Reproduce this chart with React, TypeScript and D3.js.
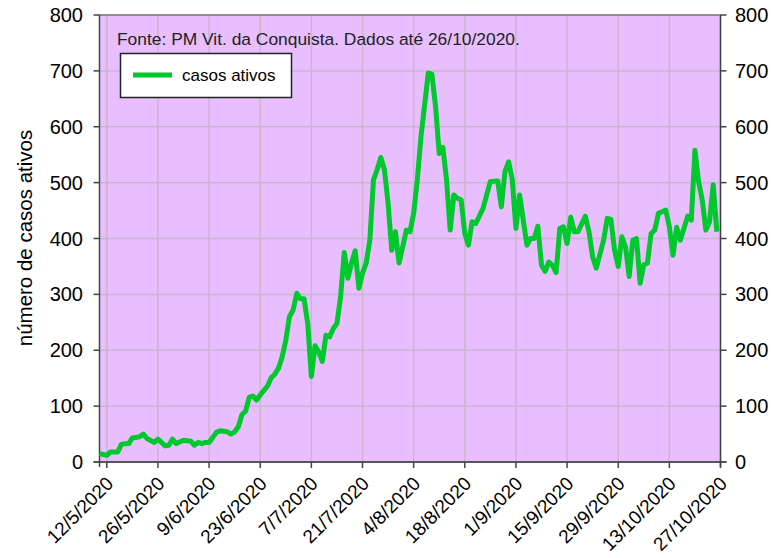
import React, { useEffect, useRef } from "react";
import * as d3 from "d3";

// dados (casos ativos, Vitoria da Conquista)
const datas = [
  "10/5", "12/5", "13/5", "15/5", "16/5", "18/5", "19/5", "21/5", "22/5", "23/5",
  "25/5", "26/5", "28/5", "29/5", "30/5", "31/5", "2/6", "4/6", "5/6", "6/6",
  "7/6", "8/6", "9/6", "11/6", "12/6", "14/6", "15/6", "16/6", "17/6", "18/6",
  "19/6", "20/6", "21/6", "22/6", "23/6", "25/6", "26/6", "27/6", "28/6", "29/6",
  "30/6", "1/7", "2/7", "3/7", "4/7", "5/7", "6/7", "7/7", "8/7", "9/7",
  "10/7", "11/7", "12/7", "13/7", "14/7", "15/7", "16/7", "17/7", "18/7", "19/7",
  "20/7", "21/7", "22/7", "23/7", "24/7", "25/7", "26/7", "27/7", "28/7", "29/7",
  "30/7", "31/7", "1/8", "2/8", "3/8", "4/8", "5/8", "6/8", "8/8", "9/8",
  "10/8", "11/8", "12/8", "13/8", "14/8", "15/8", "16/8", "17/8", "18/8", "19/8",
  "20/8", "21/8", "23/8", "25/8", "27/8", "28/8", "29/8", "30/8", "31/8", "1/9",
  "2/9", "4/9", "5/9", "6/9", "7/9", "8/9", "9/9", "10/9", "11/9", "12/9",
  "13/9", "14/9", "15/9", "16/9", "17/9", "18/9", "20/9", "21/9", "22/9", "23/9",
  "25/9", "26/9", "27/9", "28/9", "29/9", "30/9", "1/10", "2/10", "3/10", "4/10",
  "5/10", "6/10", "7/10", "8/10", "9/10", "10/10", "11/10", "12/10", "13/10", "14/10",
  "15/10", "16/10", "17/10", "18/10", "19/10", "20/10", "21/10", "22/10", "23/10", "24/10",
  "25/10", "26/10",
];
const casosAtivos = [
  15, 12, 18, 18, 32, 33, 43, 45, 50, 42,
  35, 41, 29, 30, 41, 33, 39, 37, 30, 35,
  33, 35, 35, 53, 56, 54, 50, 54, 63, 85,
  91, 116, 118, 111, 120, 136, 151, 157, 168, 188,
  218, 260, 272, 302, 292, 292, 248, 153, 208, 197,
  180, 227, 224, 239, 248, 296, 375, 329, 356, 378,
  311, 338, 356, 397, 505, 523, 545, 523, 463, 379,
  412, 356, 385, 415, 412, 445, 505, 582, 696, 694,
  636, 552, 563, 505, 415, 478, 472, 469, 409, 388,
  430, 427, 454, 502, 503, 457, 520, 537, 505, 418,
  478, 388, 400, 400, 422, 352, 341, 358, 352, 339,
  418, 421, 391, 438, 412, 412, 440, 412, 367, 347,
  397, 436, 434, 379, 350, 403, 385, 332, 397, 400,
  320, 353, 356, 409, 415, 445, 448, 451, 421, 370,
  420, 397, 418, 440, 433, 558, 502, 469, 415, 430,
  496, 412,
];
const ticksX = [
  "12/5/2020", "26/5/2020", "9/6/2020", "23/6/2020", "7/7/2020", "21/7/2020", "4/8/2020",
  "18/8/2020", "1/9/2020", "15/9/2020", "29/9/2020", "13/10/2020", "27/10/2020",
];
const ticksY = [0, 100, 200, 300, 400, 500, 600, 700, 800];
const inicio = "10/5/2020";
const fim = "27/10/2020";
const fonte = "Fonte: PM Vit. da Conquista. Dados até 26/10/2020.";
const legenda = "casos ativos";
const tituloY = "número de casos ativos";

const W = 774;
const H = 558;
const FONT = "'Liberation Sans', Arial, sans-serif";

const App = () => {
  const ref = useRef<SVGSVGElement>(null);

  useEffect(() => {
    const parse = d3.timeParse("%d/%m/%Y");
    const pts = datas.map((d, i) => ({ date: parse(d + "/2020")!, v: casosAtivos[i] }));

    const left = 99.5, right = 720.5, top = 15, bottom = 462;
    const x = d3.scaleTime().domain([parse(inicio)!, parse(fim)!]).range([left, right]);
    const y = d3.scaleLinear().domain([0, 800]).range([bottom, top]);

    const svg = d3.select(ref.current);
    svg.selectAll("*").remove();

    svg.append("rect")
      .attr("x", left).attr("y", top)
      .attr("width", right - left).attr("height", bottom - top)
      .attr("fill", "#E8BEFF");

    const grid = svg.append("g").attr("stroke", "#CBB6CE").attr("stroke-width", 1.5);
    ticksY.forEach(t => {
      grid.append("line").attr("x1", left).attr("x2", right).attr("y1", y(t)).attr("y2", y(t));
    });
    ticksX.forEach(t => {
      const xx = x(parse(t)!);
      grid.append("line").attr("x1", xx).attr("x2", xx).attr("y1", top).attr("y2", bottom);
    });

    // bordas e eixos
    svg.append("rect")
      .attr("x", left).attr("y", top)
      .attr("width", right - left).attr("height", bottom - top)
      .attr("fill", "none").attr("stroke", "#555").attr("stroke-width", 1);
    const axes = svg.append("g").attr("stroke", "#444").attr("stroke-width", 1.5);
    axes.append("line").attr("x1", left).attr("x2", left).attr("y1", top).attr("y2", bottom + 5);
    axes.append("line").attr("x1", right).attr("x2", right).attr("y1", top).attr("y2", bottom + 5);
    axes.append("line").attr("x1", left - 6).attr("x2", right + 6).attr("y1", bottom).attr("y2", bottom);
    ticksY.forEach(t => {
      axes.append("line").attr("x1", left - 6).attr("x2", left).attr("y1", y(t)).attr("y2", y(t));
      axes.append("line").attr("x1", right).attr("x2", right + 6).attr("y1", y(t)).attr("y2", y(t));
    });
    ticksX.forEach(t => {
      const xx = x(parse(t)!);
      axes.append("line").attr("x1", xx).attr("x2", xx).attr("y1", bottom).attr("y2", bottom + 6);
    });

    const lab = svg.append("g").attr("font-family", FONT).attr("fill", "#000");
    ticksY.forEach(t => {
      lab.append("text").attr("x", 83).attr("y", y(t)).attr("dy", "0.35em")
        .attr("text-anchor", "end").attr("font-size", 20).text(t);
      lab.append("text").attr("x", 735).attr("y", y(t)).attr("dy", "0.35em")
        .attr("font-size", 20).text(t);
    });
    ticksX.forEach(t => {
      const xx = x(parse(t)!);
      lab.append("text")
        .attr("transform", `translate(${xx + 3},${bottom + 18}) rotate(-45)`)
        .attr("text-anchor", "end").attr("dy", "0.35em")
        .attr("font-size", 19).text(t);
    });
    lab.append("text")
      .attr("transform", `translate(32,238) rotate(-90)`)
      .attr("text-anchor", "middle").attr("font-size", 20.5).text(tituloY);

    const line = d3.line<{ date: Date; v: number }>()
      .x(d => x(d.date))
      .y(d => y(d.v));
    svg.append("path").datum(pts)
      .attr("d", line)
      .attr("fill", "none")
      .attr("stroke", "#00C82D")
      .attr("stroke-width", 5)
      .attr("stroke-linejoin", "round");

    svg.append("text")
      .attr("x", 117).attr("y", 45)
      .attr("font-family", FONT).attr("font-size", 17.4).attr("fill", "#222")
      .text(fonte);

    const leg = svg.append("g");
    leg.append("rect")
      .attr("x", 120.5).attr("y", 53.5).attr("width", 171).attr("height", 44)
      .attr("fill", "#fff").attr("stroke", "#222").attr("stroke-width", 1.5);
    leg.append("line")
      .attr("x1", 133).attr("x2", 172).attr("y1", 75).attr("y2", 75)
      .attr("stroke", "#00C82D").attr("stroke-width", 5);
    leg.append("text")
      .attr("x", 182).attr("y", 81)
      .attr("font-family", FONT).attr("font-size", 17).attr("fill", "#000")
      .text(legenda);
  }, []);

  return (
    <svg ref={ref} width={W} height={H}
      style={{ position: "absolute", left: 0, top: 0, background: "#fff" }} />
  );
};

export default App;
